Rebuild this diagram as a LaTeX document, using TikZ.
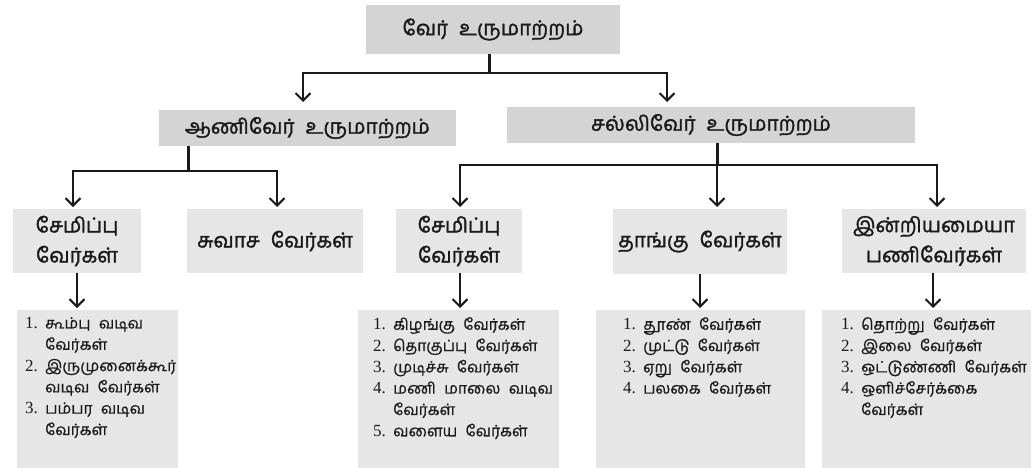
\documentclass[tikz,border=0pt]{standalone}
\usepackage{fontspec}
\setmainfont{Liberation Serif}
\newfontfamily\tamil[Script=Tamil,WordSpace=2.2,FakeBold=0.6]{Hind Madurai}
\newfontfamily\tamilhead[Script=Tamil,WordSpace=2.2,FakeBold=1.6]{Hind Madurai}
\usetikzlibrary{arrows.meta}

\definecolor{boxdark}{HTML}{D4D4D4}
\definecolor{boxlight}{HTML}{E6E6E6}
\definecolor{ink}{HTML}{1A1A1A}

% list helpers: number column and hanging indent
\newcommand\lnum[1]{\makebox[20pt][l]{\fontsize{17}{21.3}\selectfont #1}}
\newcommand\lcont{\hspace*{20pt}}

\tikzset{
  box/.style={inner sep=0pt, outer sep=0pt, text=ink, align=center},
  headbox/.style={box, fill=boxdark, font=\tamilhead\fontsize{20.5}{24}\selectfont},
  rootbox/.style={box, fill=boxlight, font=\tamilhead\fontsize{20.5}{30}\selectfont},
  listbox/.style={box, fill=boxlight},
  listtext/.style={inner sep=0pt, anchor=north west, align=left, text=ink,
    font=\fontsize{15.5}{21.3}\selectfont},
  link/.style={line width=2pt, draw=ink},
  stem/.style={line width=3pt, draw=ink},
  arr/.style={link, -{Straight Barb[length=7.5pt,width=15pt]}}
}

\begin{document}
\begin{tikzpicture}[x=1pt,y=-1pt]
\useasboundingbox (0,0) rectangle (1035,468);

% level 1
\node[headbox, minimum width=254pt, minimum height=49pt] (top) at (493,29.5) {வேர் உருமாற்றம்};

% level 2
\node[headbox, minimum width=297pt, minimum height=36pt] (ani) at (307.5,128) {ஆணிவேர் உருமாற்றம்};
\node[headbox, minimum width=408pt, minimum height=36pt] (sal) at (711,125) {சல்லிவேர் உருமாற்றம்};

% level 3
\node[rootbox, minimum width=128pt, minimum height=64pt] (semA) at (77,241) {சேமிப்பு\\வேர்கள்};
\node[rootbox, minimum width=176pt, minimum height=64pt] (suv) at (275,241) {சுவாச வேர்கள்};
\node[rootbox, minimum width=126pt, minimum height=64pt] (semC) at (459,241) {சேமிப்பு\\வேர்கள்};
\node[rootbox, minimum width=174pt, minimum height=65pt] (tang) at (700,241.5) {தாங்கு வேர்கள்};
\node[rootbox, minimum width=184pt, minimum height=64pt] (inri) at (934,241) {இன்றியமையா\\பணிவேர்கள்};

% lists
\node[listbox, minimum width=161pt, minimum height=160pt] (l1) at (97.5,390) {};
\node[listbox, minimum width=201pt, minimum height=160pt] (l2) at (458.5,390) {};
\node[listbox, minimum width=209pt, minimum height=160pt] (l3) at (700.5,390) {};
\node[listbox, minimum width=209pt, minimum height=160pt] (l4) at (926.5,390) {};

\node[listtext] (l1t) at (25,317) {%
  \lnum{1.}{\tamil கூம்பு வடிவ}\\
  \lcont{\tamil வேர்கள்}\\
  \lnum{2.}{\tamil இருமுனைக்கூர்}\\
  \lcont{\tamil வடிவ வேர்கள்}\\
  \lnum{3.}{\tamil பம்பர வடிவ}\\
  \lcont{\tamil வேர்கள்}};
\node[listtext] (l2t) at (373,317) {%
  \lnum{1.}{\tamil கிழங்கு வேர்கள்}\\
  \lnum{2.}{\tamil தொகுப்பு வேர்கள்}\\
  \lnum{3.}{\tamil முடிச்சு வேர்கள்}\\
  \lnum{4.}{\tamil மணி மாலை வடிவ}\\
  \lcont{\tamil வேர்கள்}\\
  \lnum{5.}{\tamil வளைய வேர்கள்}};
\node[listtext] (l3t) at (623,317) {%
  \lnum{1.}{\tamil தூண் வேர்கள்}\\
  \lnum{2.}{\tamil முட்டு வேர்கள்}\\
  \lnum{3.}{\tamil ஏறு வேர்கள்}\\
  \lnum{4.}{\tamil பலகை வேர்கள்}};
\node[listtext] (l4t) at (841,317) {%
  \lnum{1.}{\tamil தொற்று வேர்கள்}\\
  \lnum{2.}{\tamil இலை வேர்கள்}\\
  \lnum{3.}{\tamil ஒட்டுண்ணி வேர்கள்}\\
  \lnum{4.}{\tamil ஒளிச்சேர்க்கை}\\
  \lcont{\tamil வேர்கள்}};

% junctions and arrow ends
\coordinate (j0) at (489,73);
\coordinate (j1) at (188,171);
\coordinate (j2) at (717,165);
\coordinate (e-ani) at (303,102);
\coordinate (e-sal) at (667,102);
\coordinate (e-semA) at (73,207);
\coordinate (e-suv) at (277,207);
\coordinate (e-semC) at (460,207);
\coordinate (e-tang) at (717,207);
\coordinate (e-inri) at (937,207);
\coordinate (e-l1) at (77,308);
\coordinate (e-l2) at (460,308);
\coordinate (e-l3) at (700,308);
\coordinate (e-l4) at (933,308);

% connectors
\draw[stem] (top.south -| j0) -- (j0);
\draw[arr] (j0) -| (e-ani);
\draw[arr] (j0) -| (e-sal);

\draw[stem] (ani.south -| j1) -- (j1);
\draw[arr] (j1) -| (e-semA);
\draw[arr] (j1) -| (e-suv);

\draw[stem] (sal.south -| j2) -- (j2);
\draw[arr] (j2) -| (e-semC);
\draw[arr] (j2) -- (e-tang);
\draw[arr] (j2) -| (e-inri);

\draw[arr] (semA.south -| e-l1) -- (e-l1);
\draw[arr] (semC.south -| e-l2) -- (e-l2);
\draw[arr] (tang.south -| e-l3) -- (e-l3);
\draw[arr] (inri.south -| e-l4) -- (e-l4);
\end{tikzpicture}
\end{document}
